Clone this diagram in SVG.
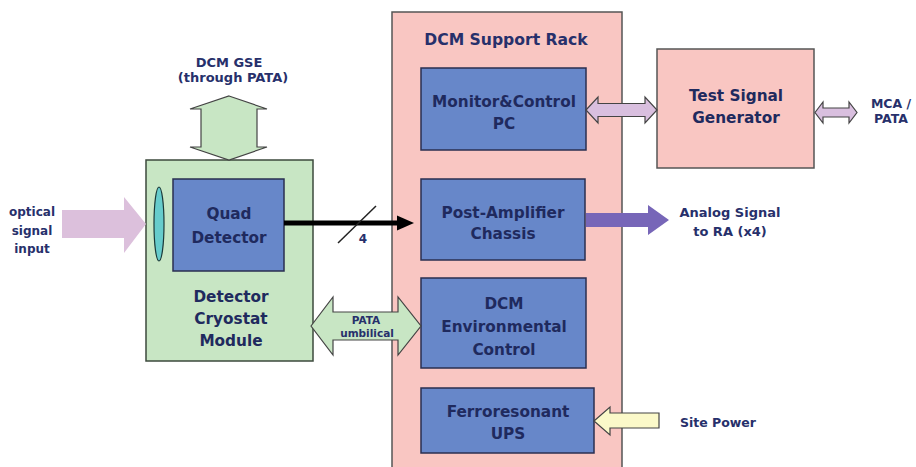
<svg xmlns="http://www.w3.org/2000/svg" width="916" height="467" viewBox="0 0 916 467">
<defs>
<style>
.t{font-family:"DejaVu Sans","Liberation Sans",sans-serif;font-weight:bold;fill:#27306b;text-anchor:middle}
.bx{font-size:15.3px;fill:#1f2a5e}
.lb{font-size:13px}
.blue{fill:#6787c9;stroke:#2a2f50;stroke-width:1.5}
.pink{fill:#f9c6c2;stroke:#555;stroke-width:1.5}
.green{fill:#c8e6c4;stroke:#3d4a3d;stroke-width:1.5}
.dbl{stroke:#444;stroke-width:1.2;stroke-linejoin:miter}
</style>
</defs>
<rect width="916" height="467" fill="#fff"/>

<g id="rack">
<rect class="pink" x="392" y="12" width="230" height="470"/>
<text class="t" x="506" y="45" font-size="15.6">DCM Support Rack</text>
</g>
<g id="monitor">
<rect class="blue" x="421" y="68" width="165" height="82"/>
<text class="t bx" x="504" y="107">Monitor&amp;Control</text>
<text class="t bx" x="504" y="129">PC</text>
</g>
<g id="postamp">
<rect class="blue" x="421" y="179" width="164" height="81"/>
<text class="t bx" x="503" y="218">Post-Amplifier</text>
<text class="t bx" x="503" y="239">Chassis</text>
</g>
<g id="envctrl">
<rect class="blue" x="421" y="278" width="165" height="90"/>
<text class="t bx" x="504" y="309">DCM</text>
<text class="t bx" x="504" y="332">Environmental</text>
<text class="t bx" x="504" y="355">Control</text>
</g>
<g id="ups">
<rect class="blue" x="421" y="388" width="173" height="65"/>
<text class="t bx" x="508" y="417">Ferroresonant</text>
<text class="t bx" x="508" y="439">UPS</text>
</g>
<g id="testgen">
<rect class="pink" x="657" y="49" width="157" height="119"/>
<text class="t bx" x="736" y="101">Test Signal</text>
<text class="t bx" x="736" y="123">Generator</text>
</g>
<g id="cryostat">
<rect class="green" x="146" y="160" width="167" height="201"/>
<text class="t bx" x="231" y="302">Detector</text>
<text class="t bx" x="231" y="324">Cryostat</text>
<text class="t bx" x="231" y="346">Module</text>
</g>
<g id="quad">
<rect class="blue" x="173" y="179" width="111" height="92"/>
<text class="t bx" x="229" y="219">Quad</text>
<text class="t bx" x="229" y="243">Detector</text>
</g>
<g id="lens">
<ellipse cx="159" cy="224" rx="5" ry="37" fill="#66cccc" stroke="#1a3a3a" stroke-width="1.2"/>
</g>

<g id="connectors">
<polygon points="62,210 124,210 124,197 146,224 124,253 124,238 62,238" fill="#dcc0dc"/>
<polygon class="dbl" points="229,96 267,109 257,109 257,147 267,147 229,160 190,147 201,147 201,109 190,109" fill="#c8e6c4"/>
<polygon class="dbl" points="311,326 333,297 333,312 398,312 398,297 421,326 398,355 398,340 333,340 333,355" fill="#c8e6c4"/>
<polygon class="dbl" points="586,110 598,97 598,103.5 645,103.5 645,97 657,110 645,123 645,116.5 598,116.5 598,123" fill="#d9bfdf"/>
<polygon class="dbl" points="815,112.5 823,102 823,108 849,108 849,102 857,112.5 849,123 849,117 823,117 823,123" fill="#d9bfdf"/>
<polygon points="586,213 648,213 648,205 669,220 648,235 648,227 586,227" fill="#7766b8"/>
<polygon class="dbl" points="594,421 610,407 610,413 659,413 659,428 610,428 610,435" fill="#fbf9c9"/>
<line x1="284" y1="223" x2="400" y2="223" stroke="#000" stroke-width="5"/>
<polygon points="397,215.5 414,223 397,230.5" fill="#000"/>
<line x1="338" y1="243" x2="376" y2="206" stroke="#222" stroke-width="1.5"/>
</g>

<g id="labels">
<text class="t" x="32" y="216" font-size="12">optical</text>
<text class="t" x="32" y="235" font-size="12">signal</text>
<text class="t" x="32" y="253" font-size="12">input</text>
<text class="t lb" x="229" y="67">DCM GSE</text>
<text class="t lb" x="233" y="82">(through PATA)</text>
<text class="t" x="366" y="324" font-size="10.5">PATA</text>
<text class="t" x="367" y="337" font-size="10.5">umbilical</text>
<text class="t" x="363" y="243" font-size="12">4</text>
<text class="t lb" x="730" y="217">Analog Signal</text>
<text class="t lb" x="730" y="236">to RA (x4)</text>
<text class="t" x="718" y="427" font-size="12.5">Site Power</text>
<text class="t" x="891" y="108" font-size="12.5">MCA /</text>
<text class="t" x="891" y="123" font-size="12.5">PATA</text>
</g>
</svg>
